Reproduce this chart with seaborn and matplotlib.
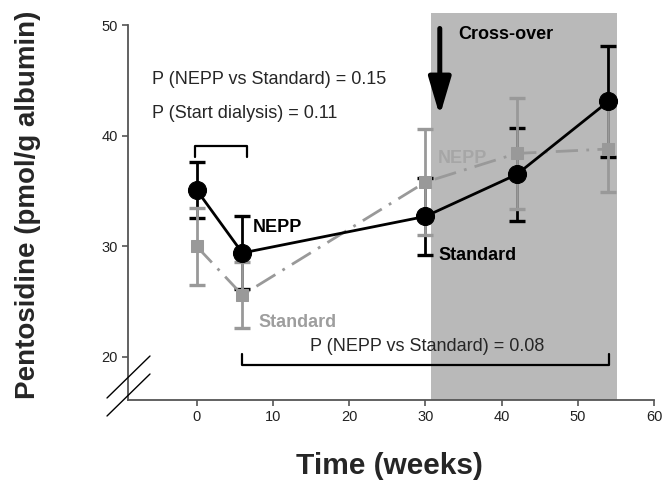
import numpy as np
import pandas as pd
import matplotlib
matplotlib.use("Agg")
import matplotlib.pyplot as plt
from matplotlib.lines import Line2D
import seaborn as sns

# ---------------- data ----------------
weeks = [0, 6, 30, 42, 54]
black_mean = [35.1, 29.4, 32.7, 36.5, 43.1]
black_err = [2.5, 3.3, 3.5, 4.2, 5.0]
gray_mean = [30.0, 25.6, 35.8, 38.4, 38.8]
gray_err = [3.5, 3.0, 4.8, 5.0, 3.9]

crossover_start = 30.7
crossover_end = 55.1

x_ticks = [0, 10, 20, 30, 40, 50, 60]
y_ticks = [20, 30, 40, 50]

df_black = pd.DataFrame({"week": weeks, "value": black_mean})
df_gray = pd.DataFrame({"week": weeks, "value": gray_mean})

# ---------------- style ----------------
sns.set_style("ticks")
plt.rcParams["font.family"] = ["Liberation Sans", "DejaVu Sans"]

BLACK = "#000000"
GRAY = "#999999"
SHADE = "#b9b9b9"
SPINE = "#555555"

fig = plt.figure(figsize=(6.69, 4.90), dpi=100)
ax = fig.add_axes([128 / 669, 1 - 400 / 490, (654 - 128) / 669, (400 - 13) / 490])

ax.set_xlim(-9, 60)
ax.set_ylim(16.1, 51.1)

# cross-over shading
ax.axvspan(crossover_start, crossover_end, color=SHADE, lw=0, zorder=0)

# error bars
ax.errorbar(weeks, black_mean, yerr=black_err, fmt="none", ecolor=BLACK,
            elinewidth=2.0, capsize=5.5, capthick=2.4, zorder=2)
ax.errorbar(weeks, gray_mean, yerr=gray_err, fmt="none", ecolor=GRAY,
            elinewidth=2.0, capsize=5.5, capthick=2.4, zorder=3)

# lines + markers
sns.lineplot(data=df_gray, x="week", y="value", ax=ax, color=GRAY, lw=2.0,
             marker="s", markersize=9, markeredgecolor=GRAY, zorder=3)
ax.lines[-1].set_linestyle((0, (8, 3, 1, 3)))
sns.lineplot(data=df_black, x="week", y="value", ax=ax, color=BLACK, lw=2.0,
             marker="o", markersize=13, markeredgecolor=BLACK, zorder=4)

# ---------------- axes cosmetics ----------------
ax.set_xticks(x_ticks)
ax.set_yticks(y_ticks)
ax.tick_params(direction="out", length=4, width=1.2, color=SPINE, labelsize=10.5,
               labelcolor="#222222")
for s in ["top", "right"]:
    ax.spines[s].set_visible(False)
for s in ["left", "bottom"]:
    ax.spines[s].set_color(SPINE)
    ax.spines[s].set_linewidth(1.3)
ax.spines["left"].set_bounds(16.1, 50)
ax.set_xlabel("")
ax.set_ylabel("")

fig.text(28 / 669, 1 - 205 / 490, "Pentosidine (pmol/g albumin)", rotation=90,
         ha="center", va="center", fontsize=20, fontweight="bold")
fig.text(389 / 669, 1 - 466 / 490, "Time (weeks)", ha="center", va="center",
         fontsize=21.5, fontweight="bold")

# axis break marks
for y0 in [398, 416]:
    fig.add_artist(Line2D([107 / 669, 150 / 669], [1 - y0 / 490, 1 - (y0 - 42) / 490],
                          transform=fig.transFigure, color=BLACK, lw=1.0))

# ---------------- annotations ----------------
ax.text(-5.9, 45.1, "P (NEPP vs Standard) = 0.15", fontsize=13, va="center")
ax.text(-5.9, 42.0, "P (Start dialysis) = 0.11", fontsize=13, va="center")

# bracket weeks 0-6
ax.plot([-0.2, -0.2, 6.6, 6.6], [38.1, 39.1, 39.1, 38.1], color=BLACK, lw=1.6,
        zorder=5)
# bracket weeks 6-54
ax.plot([6.0, 6.0, 54.1, 54.1], [20.3, 19.3, 19.3, 20.3], color=BLACK, lw=1.6,
        zorder=5)
ax.text(30.3, 20.9, "P (NEPP vs Standard) = 0.08", fontsize=13, ha="center",
        va="center")

ax.text(7.3, 31.7, "NEPP", fontsize=13, fontweight="bold", color=BLACK,
        va="center")
ax.text(8.1, 23.1, "Standard", fontsize=13, fontweight="bold", color="#9e9e9e",
        va="center")
ax.text(31.6, 37.9, "NEPP", fontsize=13, fontweight="bold", color="#a6a6a6",
        va="center")
ax.text(31.7, 29.2, "Standard", fontsize=13, fontweight="bold", color=BLACK,
        va="center")
ax.text(34.3, 49.2, "Cross-over", fontsize=13, fontweight="bold", color=BLACK,
        va="center")

ax.annotate("", xy=(31.9, 41.8), xytext=(31.9, 49.7),
            arrowprops=dict(arrowstyle="-|>,head_length=1.15,head_width=0.34",
                            lw=3.6, color=BLACK, mutation_scale=20,
                            shrinkA=0, shrinkB=0))

fig.savefig("out.png", dpi=100)
